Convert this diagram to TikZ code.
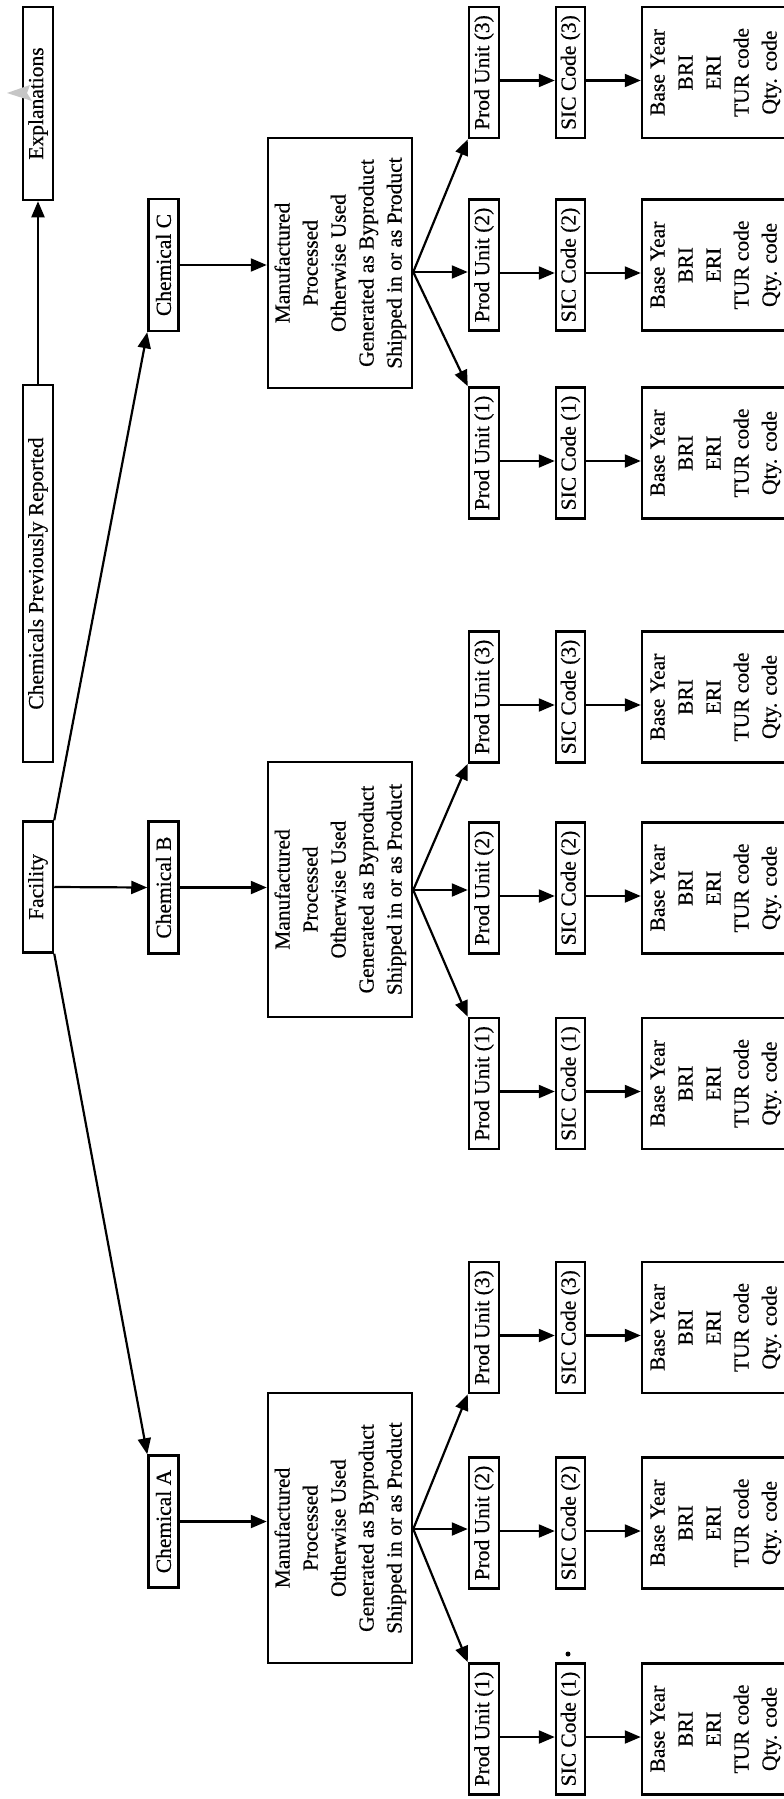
\documentclass[tikz,border=0pt]{standalone}
\usepackage{fontspec}
\setmainfont{Liberation Serif}
\newfontfamily\scanfont{Liberation Serif}[FakeBold=0.5]
\usepackage{graphicx}
\usetikzlibrary{arrows.meta,calc}
\newcommand{\rt}[1]{\rotatebox{90}{#1}}
\newcommand{\mlines}[1]{\rotatebox{90}{\begin{tabular}{@{}c@{}}#1\end{tabular}}}
\tikzset{
  box/.style={draw, line width=2.5pt, inner sep=0pt, font=\scanfont\fontsize{21.5}{28}\selectfont},
  slim/.style={box, minimum width=30pt, minimum height=131pt},
  wide/.style={box, minimum width=144pt},
  conn/.style={line width=2.2pt, -{Triangle[length=16pt,width=13pt]}},
}
\begin{document}
\begin{tikzpicture}[x=1pt,y=-1pt]
\useasboundingbox (0,0) rectangle (784,1799);
\fill[white] (0,0) rectangle (784,1799);

% left column
\node[box, minimum width=30pt, minimum height=193pt] (exp) at (38,103.5) {\rt{Explanations}};
\node[box, minimum width=30pt, minimum height=377pt] (cpr) at (38,573.5) {\rt{Chemicals Previously Reported}};
\node[box, minimum width=30pt, minimum height=131pt] (fac) at (38,887) {\rt{Facility}};
\draw[conn] (cpr.north) -- (exp.south);

% chemicals
\node[box, minimum width=30pt, minimum height=132pt] (chC) at (163.5,265) {\rt{Chemical C}};
\node[box, minimum width=30pt, minimum height=132pt] (chB) at (163.5,887.5) {\rt{Chemical B}};
\node[box, minimum width=30pt, minimum height=132pt] (chA) at (163.5,1521.5) {\rt{Chemical A}};
\draw[conn] (fac.north east) -- (chC.south west);
\draw[conn] (fac.east) -- (chB.west);
\draw[conn] (fac.south east) -- (chA.north west);

% activity boxes
\node[wide, minimum height=250pt] (manC) at (340,263) {\mlines{Manufactured\\Processed\\Otherwise Used\\Generated as Byproduct\\Shipped in or as Product}};
\node[wide, minimum height=255pt] (manB) at (340,889.5) {\mlines{Manufactured\\Processed\\Otherwise Used\\Generated as Byproduct\\Shipped in or as Product}};
\node[wide, minimum height=270pt] (manA) at (340,1528) {\mlines{Manufactured\\Processed\\Otherwise Used\\Generated as Byproduct\\Shipped in or as Product}};
\draw[conn] (chC.east) -- (chC.east -| manC.west);
\draw[conn] (chB.east) -- (chB.east -| manB.west);
\draw[conn] (chA.east) -- (chA.east -| manA.west);

% units, SIC codes, data boxes
\foreach \c/\ythree/\ytwo/\yone/\off in {C/72.5/265/453/7, B/697/888/1083.5/2, A/1327.5/1523/1729/6} {
  \foreach \n/\y in {3/\ythree, 2/\ytwo, 1/\yone} {
    \node[slim] (pu\c\n) at (484,\y) {\rt{Prod Unit (\n)}};
    \node[slim, minimum width=29pt] (sic\c\n) at (570.5,\y) {\rt{SIC Code (\n)}};
    \node[wide, minimum width=146pt, minimum height=131pt] (bs\c\n) at (715,\y) {\mlines{Base Year\\BRI\\ERI\\TUR code\\Qty. code}};
    \draw[conn] ([yshift=-8pt]pu\c\n.east) -- ([yshift=-8pt]sic\c\n.west);
    \draw[conn] ([yshift=-8pt]sic\c\n.east) -- ([yshift=-8pt]bs\c\n.west);
  }
  \coordinate (f\c) at ($(man\c.east |- pu\c2.east)+(0,\off)$);
  \draw[conn] (f\c) -- (f\c -| pu\c2.west);
  \draw[conn] (f\c) -- (pu\c3.south west);
  \draw[conn] (f\c) -- (pu\c1.north west);
}

% stray marks of the scan
\fill (568,1654) circle (2.5);
\fill[gray!45] (7,93) -- (30,85) -- (27,93) -- (32,101) -- cycle;
\end{tikzpicture}
\end{document}
